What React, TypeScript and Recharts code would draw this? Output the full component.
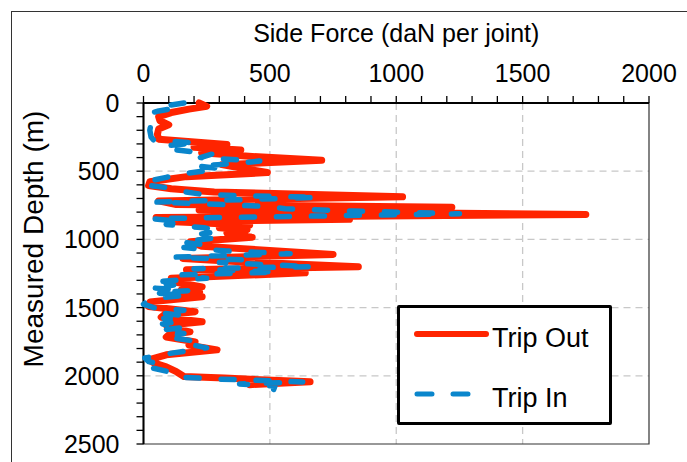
import {
  CartesianGrid,
  Legend,
  ReferenceArea,
  Scatter,
  ScatterChart,
  XAxis,
  YAxis,
} from "recharts";

// Trip Out (red, solid) — measured depth (m) vs side force (daN per joint)
const tripOutDepth = [
  0, 25, 45, 70, 100, 130, 160, 190, 230, 265, 305, 325, 345, 365, 392, 420, 452, 475, 510, 540,
  578, 605, 628, 652, 688, 718, 745, 764, 785, 800, 818, 840, 853, 870, 895, 915, 930, 955, 985,
  1018, 1050, 1110, 1140, 1165, 1201, 1222, 1245, 1285, 1311, 1348, 1370, 1387, 1405, 1421, 1458,
  1492, 1531, 1555, 1570, 1604, 1630, 1645, 1678, 1700, 1716, 1751, 1775, 1810, 1846, 1883, 1905,
  1934, 1970, 2005, 2017, 2044, 2065,
];
const tripOutForce = [
  220, 250, 180, 110, 60, 65, 100, 60, 55, 60, 330, 200, 385, 230, 430, 705, 310, 380, 490, 170,
  25, 20, 110, 280, 1025, 60, 130, 1220, 220, 720, 1750, 50, 815, 120, 420, 300, 410, 330, 430,
  185, 230, 750, 156, 400, 850, 170, 640, 110, 117, 232, 150, 222, 150, 232, 26,
  20, 204, 80, 70, 232, 90, 100, 184, 100, 90, 204, 180, 291, 90, 20, 40,
  90, 130, 160, 320, 659, 420,
];

// Trip In (blue, dashed)
const tripInDepth = [
  0, 18, 38, 58, 80, 110, 150, 200, 250, 272, 293, 312, 332, 348, 375, 400, 425, 442, 462, 480,
  500, 520, 545, 578, 600, 620, 650, 672, 692, 727, 745, 760, 775, 792, 812, 828, 848, 870, 890,
  915, 940, 960, 985, 1020, 1040, 1060, 1085, 1105, 1130, 1150, 1170, 1200, 1215, 1240, 1260, 1285,
  1311, 1335, 1355, 1375, 1392, 1410, 1428, 1450, 1475, 1500, 1520, 1540, 1560, 1580, 1600, 1620,
  1645, 1665, 1690, 1715, 1745, 1765, 1795, 1815, 1840, 1870, 1895, 1920, 1945, 1970, 1995, 2010,
  2025, 2045, 2060, 2075, 2100,
];
const tripInForce = [
  160, 95, 130, 60, 18, 15, 30, 25, 30, 40, 212, 90, 80, 150, 270, 225, 460, 380, 210, 300,
  235, 150, 90, 5, 0, 90, 160, 240, 690, 45, 320, 500, 560, 830, 1250, 700, 35, 150, 90,
  240, 300, 230, 300, 150, 240, 160, 330, 580, 120, 400, 300, 670, 200, 530, 150, 250,
  40, 120, 30, 180, 50, 170, 60, 20, 0, 40, 160, 70, 165, 80, 150, 75,
  160, 70, 160, 90, 200, 170, 250, 180, 90, 5, 20, 80, 40, 100, 110, 150,
  310, 630, 380, 520, 515,
];

const seriesNames = ["Trip Out", "Trip In"];
const forceLabels = [0, 500, 1000, 1500, 2000];
const depthLabels = [0, 500, 1000, 1500, 2000, 2500];

const FONT = '"Liberation Sans", Arial, Helvetica, sans-serif';
const RED = "#ff2400";
const BLUE = "#0a86cc";

const toPoints = (depth: number[], force: number[]) =>
  depth.map((d, i) => ({ depth: d, force: force[i] }));
const tripOut = toPoints(tripOutDepth, tripOutForce);
const tripIn = toPoints(tripInDepth, tripInForce);

// minor ticks every 100, labels only on the 500s
const stepTicks = (max: number) => Array.from({ length: max / 100 + 1 }, (_, i) => i * 100);

function ForceTick({ x, y, payload }: any) {
  if (!forceLabels.includes(payload.value)) return <g />;
  return (
    <text x={x} y={y} textAnchor="middle" fontSize={25} fontFamily={FONT} fill="#000">
      {payload.value}
    </text>
  );
}

function DepthTick({ x, y, payload }: any) {
  if (!depthLabels.includes(payload.value)) return <g />;
  return (
    <text x={x} y={y} dy="0.36em" textAnchor="end" fontSize={25} fontFamily={FONT} fill="#000">
      {payload.value}
    </text>
  );
}

const renderForceTitle = (props: any) => {
  const vb = props.viewBox || { x: 0, width: 0 };
  return (
    <text x={vb.x + vb.width / 2} y={42} textAnchor="middle" fontSize={25} fontFamily={FONT} fill="#000">
      Side Force (daN per joint)
    </text>
  );
};

const renderDepthTitle = () => (
  <text
    x={43}
    y={239}
    transform="rotate(-90 43 239)"
    textAnchor="middle"
    fontSize={28}
    fontFamily={FONT}
    fill="#000"
  >
    Measured Depth (m)
  </text>
);

const renderLegend = () => (
  <div
    style={{
      position: "relative",
      width: 215,
      height: 120,
      boxSizing: "border-box",
      border: "3.5px solid #000",
      borderRadius: 2,
      background: "#fff",
    }}
  >
    <svg width={215} height={120} style={{ position: "absolute", left: -3.5, top: -3.5 }}>
      <line x1={20} x2={89} y1={29} y2={29} stroke={RED} strokeWidth={6} strokeLinecap="round" />
      <text x={95} y={42} fontSize={27} fontFamily={FONT} fill="#000">
        {seriesNames[0]}
      </text>
      <line
        x1={20}
        x2={76}
        y1={89}
        y2={89}
        stroke={BLUE}
        strokeWidth={5}
        strokeDasharray="15 21"
        strokeLinecap="round"
      />
      <text x={95} y={102} fontSize={27} fontFamily={FONT} fill="#000">
        {seriesNames[1]}
      </text>
    </svg>
  </div>
);

const noDot = () => <g />;

export default function App() {
  return (
    <div style={{ position: "absolute", left: 0, top: 0, width: 687, height: 462, overflow: "hidden", background: "#fff" }}>
      <div
        style={{
          position: "absolute",
          left: 11,
          top: 11,
          width: 700,
          height: 480,
          border: "1.5px solid #333",
        }}
      />
      <div style={{ position: "absolute", left: 0, top: 0 }}>
        <ScatterChart width={687} height={462} margin={{ top: 0, right: 38, bottom: 18, left: 0 }}>
          <CartesianGrid
            horizontalValues={[500, 1000, 1500, 2000]}
            verticalValues={[500, 1000, 1500]}
            stroke="#c8c8c8"
            strokeWidth={1.3}
            strokeDasharray="7 5"
          />
          <XAxis
            type="number"
            dataKey="force"
            orientation="top"
            domain={[0, 2000]}
            ticks={stepTicks(2000)}
            interval={0}
            height={103}
            tick={ForceTick}
            tickSize={7}
            tickMargin={14}
            tickLine={{ stroke: "#000", strokeWidth: 1.3 }}
            axisLine={{ stroke: "#000", strokeWidth: 2 }}
            label={renderForceTitle}
          />
          <YAxis
            type="number"
            dataKey="depth"
            reversed
            domain={[0, 2500]}
            ticks={stepTicks(2500)}
            interval={0}
            width={143.5}
            tick={DepthTick}
            tickSize={7}
            tickMargin={17}
            tickLine={{ stroke: "#000", strokeWidth: 1.3 }}
            axisLine={{ stroke: "#000", strokeWidth: 2 }}
            label={renderDepthTitle}
          />
          <ReferenceArea x1={0} x2={2000} y1={0} y2={2500} fill="none" stroke="#333" strokeWidth={1.2} />
          <Scatter
            name={seriesNames[0]}
            data={tripOut}
            fill={RED}
            shape={noDot}
            line={{ stroke: RED, strokeWidth: 7, strokeLinecap: "round", strokeLinejoin: "round" }}
            lineType="joint"
            isAnimationActive={false}
          />
          <Scatter
            name={seriesNames[1]}
            data={tripIn}
            fill={BLUE}
            shape={noDot}
            line={{
              stroke: BLUE,
              strokeWidth: 5.5,
              strokeDasharray: "13 22",
              strokeLinecap: "round",
              strokeLinejoin: "round",
            }}
            lineType="joint"
            isAnimationActive={false}
          />
          <Legend
            layout="horizontal"
            verticalAlign="middle"
            align="center"
            content={renderLegend}
            wrapperStyle={{ position: "absolute", left: 397, top: 305, width: 215, height: 120 }}
          />
        </ScatterChart>
      </div>
    </div>
  );
}
